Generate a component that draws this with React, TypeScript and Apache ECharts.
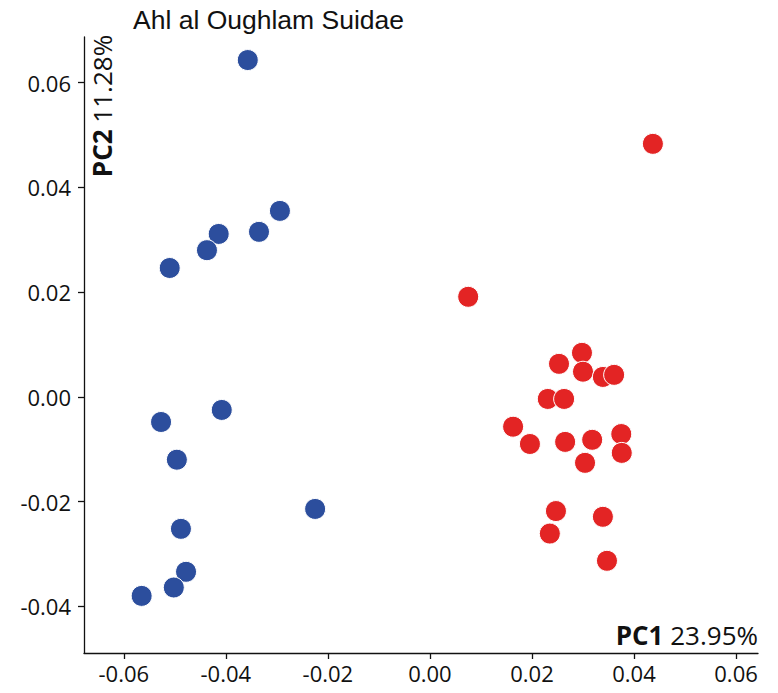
import React, { useEffect, useRef } from "react";
import * as echarts from "echarts";

const titleText = "Ahl al Oughlam Suidae";
const xTicks = [-0.06, -0.04, -0.02, 0.0, 0.02, 0.04, 0.06];
const yTicks = [-0.04, -0.02, 0.0, 0.02, 0.04, 0.06];

const blueX = [-0.0357, -0.0294, -0.0335, -0.0414, -0.0437, -0.051, -0.0408, -0.0527, -0.0496, -0.0225, -0.0488, -0.0478, -0.0502, -0.0565];
const blueY = [0.0643, 0.0355, 0.0315, 0.0311, 0.028, 0.0246, -0.0025, -0.0048, -0.012, -0.0214, -0.0252, -0.0334, -0.0364, -0.038];

const redX = [0.0437, 0.0075, 0.0298, 0.0253, 0.03, 0.0339, 0.0361, 0.0231, 0.0263, 0.0163, 0.0196, 0.0265, 0.0318, 0.0375, 0.0376, 0.0304, 0.0247, 0.0235, 0.0339, 0.0347];
const redY = [0.0483, 0.0191, 0.0084, 0.0063, 0.0048, 0.0038, 0.0042, -0.0004, -0.0004, -0.0057, -0.009, -0.0086, -0.0082, -0.0071, -0.0107, -0.0126, -0.0218, -0.0261, -0.0229, -0.0313];

const zip = (xs: number[], ys: number[]) => xs.map((x, i) => [x, ys[i]]);

export default function App() {
  const ref = useRef<HTMLDivElement>(null);
  useEffect(() => {
    if (!ref.current) return;
    const chart = echarts.init(ref.current, undefined, { renderer: "svg" });
    const tickFont = "'Open Sans', 'Noto Sans', sans-serif";
    chart.setOption({
      animation: false,
      backgroundColor: "#ffffff",
      grid: { left: 84, right: 20, top: 37, bottom: 40, containLabel: false },
      xAxis: {
        type: "value",
        min: -0.0678,
        max: 0.0643,
        splitLine: { show: false },
        axisLine: { show: true, onZero: false, lineStyle: { color: "#111", width: 1.3 } },
        axisTick: { show: true, length: 6, customValues: xTicks, lineStyle: { color: "#111", width: 1.3 } },
        axisLabel: {
          customValues: xTicks,
          formatter: (v: number) => v.toFixed(2),
          color: "#111",
          fontSize: 22,
          fontFamily: tickFont,
          margin: 9,
        },
      },
      yAxis: {
        type: "value",
        min: -0.0489,
        max: 0.0687,
        splitLine: { show: false },
        axisLine: { show: true, onZero: false, lineStyle: { color: "#111", width: 1.3 } },
        axisTick: { show: true, length: 6, customValues: yTicks, lineStyle: { color: "#111", width: 1.3 } },
        axisLabel: {
          customValues: yTicks,
          formatter: (v: number) => v.toFixed(2),
          color: "#111",
          fontSize: 22,
          fontFamily: tickFont,
          margin: 13,
        },
      },
      series: [
        {
          type: "scatter",
          data: zip(blueX, blueY),
          symbolSize: 21,
          itemStyle: { color: "#2c4e9d", borderColor: "#ffffff", borderWidth: 1, opacity: 1 },
        },
        {
          type: "scatter",
          data: zip(redX, redY),
          symbolSize: 21,
          itemStyle: { color: "#e32424", borderColor: "#ffffff", borderWidth: 1, opacity: 1 },
        },
      ],
      graphic: [
        {
          type: "text",
          left: 133,
          top: 6,
          style: {
            text: titleText,
            fontFamily: "'Liberation Sans', Arial, sans-serif",
            fontSize: 26.5,
            fill: "#111",
          },
        },
        {
          type: "text",
          x: 102,
          y: 106,
          rotation: Math.PI / 2,
          style: {
            text: "{b|PC2}{n| 11.28%}",
            align: "center",
            verticalAlign: "middle",
            rich: {
              b: { fontFamily: tickFont, fontWeight: "bold", fontSize: 26, fill: "#111" },
              n: { fontFamily: tickFont, fontSize: 26, fill: "#111" },
            },
          },
        },
        {
          type: "text",
          x: 758,
          y: 635,
          style: {
            text: "{b|PC1}{n| 23.95%}",
            align: "right",
            verticalAlign: "middle",
            rich: {
              b: { fontFamily: tickFont, fontWeight: "bold", fontSize: 26, fill: "#111" },
              n: { fontFamily: tickFont, fontSize: 26, fill: "#111" },
            },
          },
        },
      ],
    });
    return () => chart.dispose();
  }, []);
  return <div ref={ref} style={{ position: "fixed", left: 0, top: 0, width: 778, height: 693 }} />;
}
